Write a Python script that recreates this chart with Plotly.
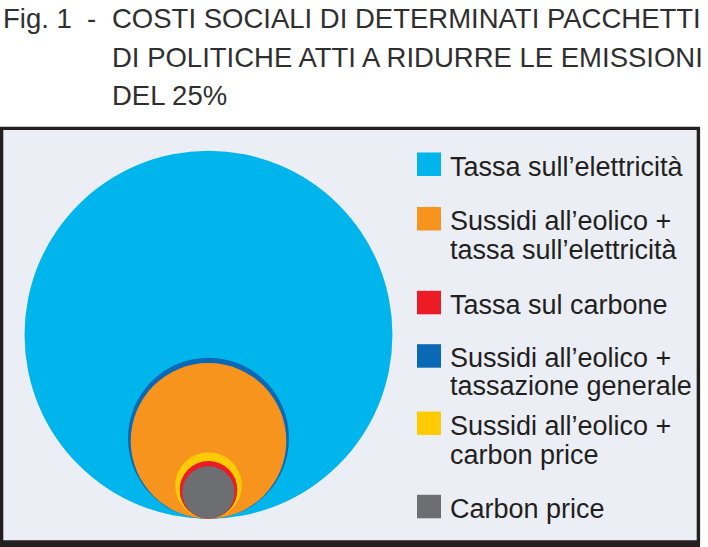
import math
import plotly.graph_objects as go

# ---------------- data ----------------
categorie = [
    "Tassa sull’elettricità",
    "Sussidi all’eolico + tassa sull’elettricità",
    "Tassa sul carbone",
    "Sussidi all’eolico + tassazione generale",
    "Sussidi all’eolico + carbon price",
    "Carbon price",
]
# relative social cost (area of the circle), Carbon price = 1
costo_relativo = [49.3, 8.82, 1.21, 9.44, 1.61, 1.0]
colori = ["#00b5ec", "#f7941d", "#ed1c24", "#0a68b4", "#ffcb05", "#6d6e71"]
righe_legenda = [
    ["Tassa sull’elettricità"],
    ["Sussidi all’eolico +", "tassa sull’elettricità"],
    ["Tassa sul carbone"],
    ["Sussidi all’eolico +", "tassazione generale"],
    ["Sussidi all’eolico +", "carbon price"],
    ["Carbon price"],
]
titolo_prefisso = "Fig. 1\u00a0\u00a0-"
titolo_righe = [
    "COSTI SOCIALI DI DETERMINATI PACCHETTI",
    "DI POLITICHE ATTI A RIDURRE LE EMISSIONI",
    "DEL 25%",
]

# ---------------- layout / style ----------------
W, H = 708, 547
SCALA = 26.2          # radius (px) of a circle of relative cost 1
CX = 208.5            # pixel x of circles' centre
BASE = 518.7          # pixel y where all circles touch
FONT = "Liberation Sans, Arial, Helvetica, sans-serif"
TXT = "#231f20"

def px(x):
    return x / W

def py(y):
    return 1 - y / H

fig = go.Figure()

shapes = []
# panel background + frame
shapes.append(dict(type="rect", xref="paper", yref="paper", layer="below",
                   x0=px(1.6), x1=px(698.4), y0=py(128.4), y1=py(543),
                   fillcolor="#ebeef4", line=dict(color=TXT, width=3.4)))
shapes.append(dict(type="rect", xref="paper", yref="paper", layer="below",
                   x0=px(0), x1=px(700), y0=py(540.2), y1=py(547),
                   fillcolor=TXT, line=dict(width=0)))

# circles, largest first, all tangent at the bottom point
ordine = sorted(range(len(categorie)), key=lambda i: -costo_relativo[i])
for i in ordine:
    r = SCALA * math.sqrt(costo_relativo[i])
    shapes.append(dict(type="circle", xref="x", yref="y",
                       x0=-r, x1=r, y0=0, y1=2 * r,
                       fillcolor=colori[i], line=dict(width=0)))

# invisible trace to establish the axes
fig.add_trace(go.Scatter(x=[0], y=[0], mode="markers",
                         marker=dict(size=1, opacity=0), hoverinfo="skip",
                         showlegend=False))

annotations = []

def testo(t, x, baseline, size, color, fam=FONT):
    annotations.append(dict(text=t, xref="paper", yref="paper",
                            x=px(x), y=py(baseline - 0.3465 * size),
                            xanchor="left", yanchor="middle", showarrow=False,
                            borderpad=0,
                            font=dict(family=fam, size=size, color=color)))

# title
T_SIZE = 27.5
T_COL = "#2f2f2f"
titolo_baseline = [28.3, 66.7, 105.0]
testo(titolo_prefisso, 2.0, titolo_baseline[0], T_SIZE, T_COL)
for riga, b in zip(titolo_righe, titolo_baseline):
    testo(riga, 110.5, b, T_SIZE, T_COL)

# legend
L_SIZE = 27
legenda_baseline = [[176.0], [230.5, 259.2], [314.3], [367.7, 395.8], [435.0, 464.2], [518.3]]
SQ = 23.5
for i in range(len(categorie)):
    b0 = legenda_baseline[i][0]
    shapes.append(dict(type="rect", xref="paper", yref="paper",
                       x0=px(417), x1=px(441), y0=py(b0), y1=py(b0 - SQ),
                       fillcolor=colori[i], line=dict(width=0)))
    for riga, b in zip(righe_legenda[i], legenda_baseline[i]):
        testo(riga, 448.5, b, L_SIZE, TXT)

fig.update_layout(
    width=W, height=H,
    margin=dict(l=0, r=0, t=0, b=0),
    paper_bgcolor="white", plot_bgcolor="rgba(0,0,0,0)",
    showlegend=False,
    shapes=shapes, annotations=annotations,
    xaxis=dict(range=[-CX, W - CX], domain=[0, 1], visible=False, fixedrange=True),
    yaxis=dict(range=[-(H - BASE), BASE], domain=[0, 1], visible=False, fixedrange=True),
)

fig.write_html("out.html", config={"displayModeBar": False})
